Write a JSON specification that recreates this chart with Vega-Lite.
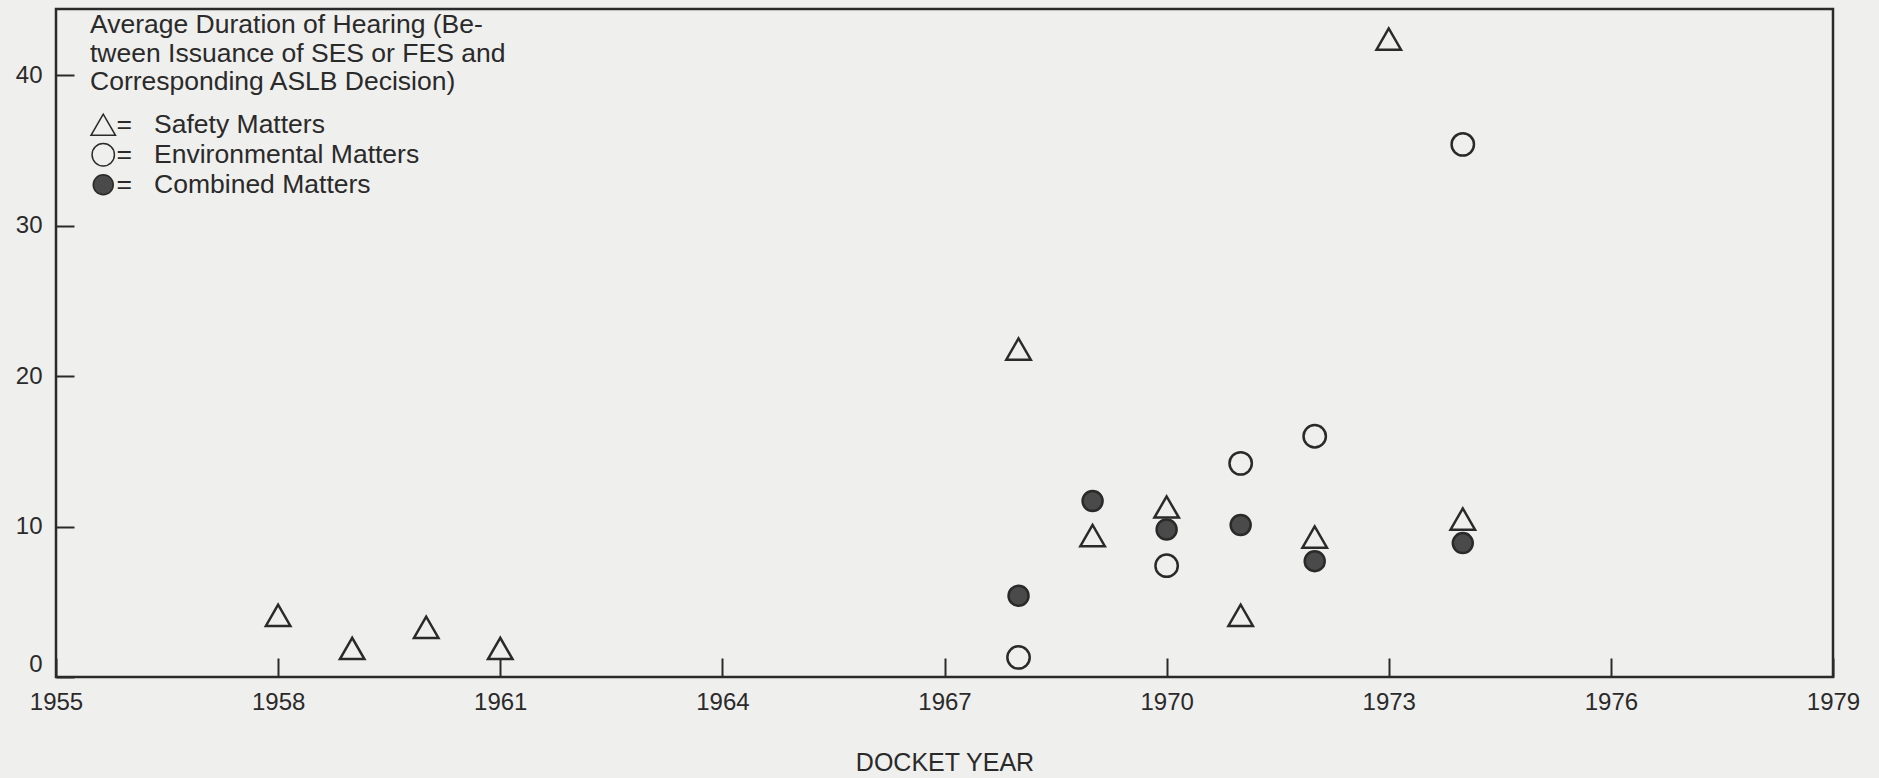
{
  "$schema": "https://vega.github.io/schema/vega-lite/v6.json",
  "width": 1777,
  "height": 668,
  "autosize": {"type": "none"},
  "padding": {"left": 56, "top": 9, "right": 46, "bottom": 101},
  "background": "#efefed",
  "config": {
    "font": "Liberation Sans",
    "view": {"stroke": "#2a2a2a", "strokeWidth": 2.5},
    "axis": {"domain": false, "grid": false, "labelFont": "Liberation Sans", "labelColor": "#2a2a2a", "tickColor": "#2a2a2a", "tickWidth": 2, "titleColor": "#2a2a2a"}
  },
  "data": {
    "values": [
      {"year": 1958, "duration": 4.1, "type": "Safety Matters"},
      {"year": 1959, "duration": 1.9, "type": "Safety Matters"},
      {"year": 1960, "duration": 3.3, "type": "Safety Matters"},
      {"year": 1961, "duration": 1.9, "type": "Safety Matters"},
      {"year": 1968, "duration": 21.8, "type": "Safety Matters"},
      {"year": 1969, "duration": 9.4, "type": "Safety Matters"},
      {"year": 1970, "duration": 11.3, "type": "Safety Matters"},
      {"year": 1971, "duration": 4.1, "type": "Safety Matters"},
      {"year": 1972, "duration": 9.3, "type": "Safety Matters"},
      {"year": 1973, "duration": 42.4, "type": "Safety Matters"},
      {"year": 1974, "duration": 10.5, "type": "Safety Matters"},
      {"year": 1968, "duration": 1.3, "type": "Environmental Matters"},
      {"year": 1970, "duration": 7.4, "type": "Environmental Matters"},
      {"year": 1971, "duration": 14.2, "type": "Environmental Matters"},
      {"year": 1972, "duration": 16.0, "type": "Environmental Matters"},
      {"year": 1974, "duration": 35.4, "type": "Environmental Matters"},
      {"year": 1968, "duration": 5.4, "type": "Combined Matters"},
      {"year": 1969, "duration": 11.7, "type": "Combined Matters"},
      {"year": 1970, "duration": 9.8, "type": "Combined Matters"},
      {"year": 1971, "duration": 10.1, "type": "Combined Matters"},
      {"year": 1972, "duration": 7.7, "type": "Combined Matters"},
      {"year": 1974, "duration": 8.9, "type": "Combined Matters"}
    ]
  },
  "mark": {"type": "point", "filled": true, "stroke": "#2a2a2a", "strokeWidth": 2.5, "opacity": 1},
  "encoding": {
    "x": {
      "field": "year", "type": "quantitative",
      "scale": {"domain": [1955, 1979], "nice": false, "zero": false},
      "axis": {
        "values": [1955, 1958, 1961, 1964, 1967, 1970, 1973, 1976, 1979],
        "format": "d", "tickSize": -19, "labelPadding": 32, "labelFontSize": 24,
        "labelFlush": false,
        "title": "DOCKET YEAR", "titleFontSize": 25, "titleFontWeight": "normal",
        "titleY": 85, "titleBaseline": "middle"
      }
    },
    "y": {
      "field": "duration", "type": "quantitative",
      "scale": {"domain": [0, 44.4], "nice": false, "zero": true},
      "axis": {
        "values": [0, 10, 20, 30, 40], "tickSize": -18, "labelPadding": 32, "labelFontSize": 24,
        "labelFlush": false, "title": null,
        "labelOffset": {"condition": {"test": "datum.value === 0", "value": -13}, "value": 0}
      }
    },
    "shape": {
      "field": "type", "type": "nominal",
      "scale": {"domain": ["Safety Matters", "Environmental Matters", "Combined Matters"], "range": ["triangle-up", "circle", "circle"]},
      "legend": {
        "orient": "none", "legendX": 34, "legendY": 3, "padding": 0,
        "title": ["Average Duration of Hearing (Be-", "tween Issuance of SES or FES and", "Corresponding ASLB Decision)"],
        "titleFontSize": 26.5, "titleFontWeight": "normal", "titleLineHeight": 28.5, "titlePadding": 16, "titleColor": "#2a2a2a", "titleLimit": 2000,
        "labelFontSize": 26.5, "labelColor": "#2a2a2a", "labelLimit": 2000, "labelOffset": 0,
        "labelExpr": "'=\u00a0\u00a0\u00a0' + datum.label", "rowPadding": 2,
        "encode": {"symbols": {"update": {"stroke": {"value": "#2a2a2a"}, "strokeWidth": {"value": 2.5}}}}
      }
    },
    "fill": {
      "field": "type", "type": "nominal",
      "scale": {"domain": ["Safety Matters", "Environmental Matters", "Combined Matters"], "range": ["transparent", "transparent", "#4a4a4a"]},
      "legend": {
        "orient": "none", "legendX": 34, "legendY": 3, "padding": 0,
        "title": ["Average Duration of Hearing (Be-", "tween Issuance of SES or FES and", "Corresponding ASLB Decision)"],
        "titleFontSize": 26.5, "titleFontWeight": "normal", "titleLineHeight": 28.5, "titlePadding": 16, "titleColor": "#2a2a2a", "titleLimit": 2000,
        "labelFontSize": 26.5, "labelColor": "#2a2a2a", "labelLimit": 2000, "labelOffset": 0,
        "labelExpr": "'=\u00a0\u00a0\u00a0' + datum.label", "rowPadding": 2,
        "encode": {"symbols": {"update": {"stroke": {"value": "#2a2a2a"}, "strokeWidth": {"value": 2.5}}}}
      }
    },
    "size": {
      "field": "type", "type": "nominal",
      "scale": {"domain": ["Safety Matters", "Environmental Matters", "Combined Matters"], "range": [600, 400, 400]},
      "legend": {
        "orient": "none", "legendX": 34, "legendY": 3, "padding": 0,
        "title": ["Average Duration of Hearing (Be-", "tween Issuance of SES or FES and", "Corresponding ASLB Decision)"],
        "titleFontSize": 26.5, "titleFontWeight": "normal", "titleLineHeight": 28.5, "titlePadding": 16, "titleColor": "#2a2a2a", "titleLimit": 2000,
        "labelFontSize": 26.5, "labelColor": "#2a2a2a", "labelLimit": 2000, "labelOffset": 0,
        "labelExpr": "'=\u00a0\u00a0\u00a0' + datum.label", "rowPadding": 2,
        "encode": {"symbols": {"update": {"stroke": {"value": "#2a2a2a"}, "strokeWidth": {"value": 2.5}}}}
      }
    }
  }
}
